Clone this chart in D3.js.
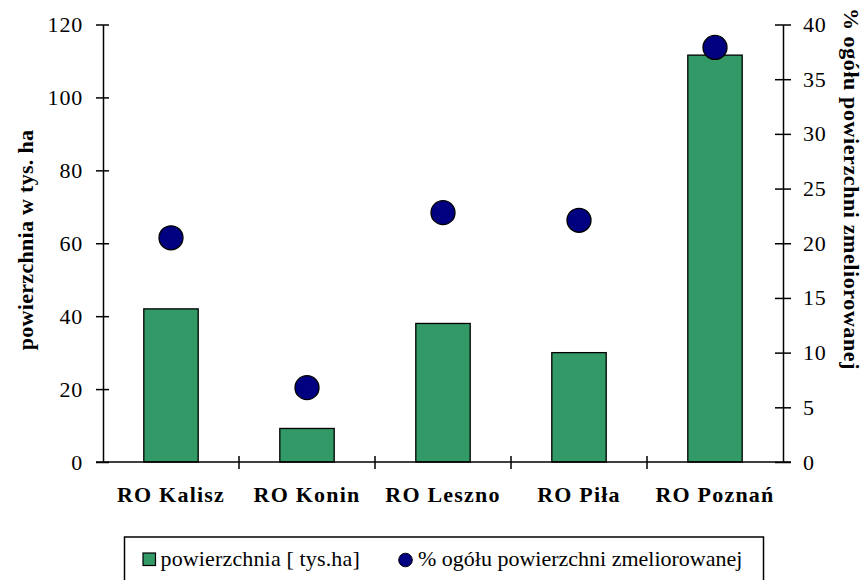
<!DOCTYPE html>
<html>
<head>
<meta charset="utf-8">
<script src="https://cdn.jsdelivr.net/npm/d3@7"></script>
</head>
<body style="margin:0;background:#fff">
<svg id="chart" width="865" height="580" font-family="Liberation Serif" style="display:block"></svg>
<script>
// Regional offices
const categories = ["RO Kalisz", "RO Konin", "RO Leszno", "RO Piła", "RO Poznań"];
// Drained area, thousand ha (left axis)
const areaValues = [42, 9.2, 38, 30, 111.6];
// Share of total drained area, % (right axis)
const shareValues = [20.5, 6.8, 22.8, 22.1, 37.9];
// Axis tick labels
const leftTicks = [0, 20, 40, 60, 80, 100, 120];
const rightTicks = [0, 5, 10, 15, 20, 25, 30, 35, 40];

const areaLabel = "powierzchnia [ tys.ha]";
const shareLabel = "% ogółu powierzchni zmeliorowanej";
const leftTitle = "powierzchnia w tys. ha";
const rightTitle = "% ogółu powierzchni zmeliorowanej";

const FONT = "Liberation Serif";
const svg = d3.select("#chart");
const plot = { left: 103, right: 783, top: 24.5, bottom: 462 };

const x = d3.scaleBand().domain(categories).range([plot.left, plot.right])
  .paddingInner(0.6).paddingOuter(0.3);
const xTicks = d3.scaleBand().domain(categories).range([plot.left, plot.right]);
const yL = d3.scaleLinear().domain([0, 120]).range([plot.bottom, plot.top]);
const yR = d3.scaleLinear().domain([0, 40]).range([plot.bottom, plot.top]);

// Bars
svg.append("g").selectAll("rect").data(categories).join("rect")
  .attr("x", d => x(d))
  .attr("width", x.bandwidth())
  .attr("y", (d, i) => yL(areaValues[i]))
  .attr("height", (d, i) => yL(0) - yL(areaValues[i]))
  .attr("fill", "#339966")
  .attr("stroke", "#000")
  .attr("stroke-width", 1.3);

// Axes
const axisStyle = g => {
  g.attr("font-family", FONT);
  g.select(".domain").attr("stroke", "#000").attr("stroke-width", 1.5);
  g.selectAll(".tick line").attr("stroke", "#000").attr("stroke-width", 1.5);
  g.selectAll(".tick text").attr("fill", "#000").attr("font-family", FONT)
    .attr("font-size", 22).attr("letter-spacing", 0.8);
};

const leftAxis = svg.append("g").attr("transform", `translate(${plot.left},0)`)
  .call(d3.axisLeft(yL).tickValues(leftTicks).tickSize(7).tickSizeOuter(0).tickPadding(13))
  .call(axisStyle);
leftAxis.selectAll(".tick line").attr("x2", 6).attr("x1", -7);

const rightAxis = svg.append("g").attr("transform", `translate(${plot.right},0)`)
  .call(d3.axisRight(yR).tickValues(rightTicks).tickSize(8).tickSizeOuter(0).tickPadding(12))
  .call(axisStyle);
rightAxis.selectAll(".tick line").attr("x1", -8).attr("x2", 8);

// Category axis with separators between bands
const bottomAxis = svg.append("g").attr("transform", `translate(0,${plot.bottom})`)
  .call(d3.axisBottom(xTicks).tickValues([]).tickSizeOuter(0))
  .call(axisStyle);
bottomAxis.select(".domain").attr("d", `M${plot.left - 7},0H${plot.right + 8}`);
bottomAxis.selectAll(".sep").data(categories.slice(1)).join("line")
  .attr("class", "sep")
  .attr("x1", d => xTicks(d)).attr("x2", d => xTicks(d))
  .attr("y1", -6).attr("y2", 7)
  .attr("stroke", "#000").attr("stroke-width", 1.5);
bottomAxis.selectAll(".cat").data(categories).join("text")
  .attr("class", "cat")
  .attr("x", d => x(d) + x.bandwidth() / 2)
  .attr("y", 40)
  .attr("text-anchor", "middle")
  .attr("fill", "#000")
  .attr("font-family", FONT)
  .attr("font-size", 22)
  .attr("font-weight", "bold")
  .attr("letter-spacing", 1.2)
  .text(d => d);

// Share markers
svg.append("g").selectAll("circle").data(categories).join("circle")
  .attr("cx", d => x(d) + x.bandwidth() / 2)
  .attr("cy", (d, i) => yR(shareValues[i]))
  .attr("r", 12)
  .attr("fill", "#000080")
  .attr("stroke", "#000")
  .attr("stroke-width", 1.3);

// Axis titles
svg.append("text")
  .attr("transform", `translate(33,240) rotate(-90)`)
  .attr("text-anchor", "middle")
  .attr("font-family", FONT)
  .attr("font-size", 22)
  .attr("font-weight", "bold")
  .attr("letter-spacing", 0.3)
  .text(leftTitle);

svg.append("text")
  .attr("transform", `translate(844,189) rotate(90)`)
  .attr("text-anchor", "middle")
  .attr("font-family", FONT)
  .attr("font-size", 22)
  .attr("font-weight", "bold")
  .attr("letter-spacing", 0.6)
  .text(rightTitle);

// Legend
const legend = svg.append("g").attr("font-family", FONT);
legend.append("rect")
  .attr("x", 124.5).attr("y", 537).attr("width", 639).attr("height", 60)
  .attr("fill", "#fff").attr("stroke", "#000").attr("stroke-width", 1.5);
legend.append("rect")
  .attr("x", 143).attr("y", 553).attr("width", 12.5).attr("height", 12.5)
  .attr("fill", "#339966").attr("stroke", "#000").attr("stroke-width", 1.2);
legend.append("text")
  .attr("x", 160.5).attr("y", 566)
  .attr("font-family", FONT)
  .attr("font-size", 22)
  .attr("letter-spacing", 0.15)
  .text(areaLabel);
legend.append("circle")
  .attr("cx", 405.5).attr("cy", 560).attr("r", 6.8)
  .attr("fill", "#000080").attr("stroke", "#000").attr("stroke-width", 1);
legend.append("text")
  .attr("x", 418).attr("y", 566)
  .attr("font-family", FONT)
  .attr("font-size", 22)
  .text(shareLabel);
</script>
</body>
</html>
